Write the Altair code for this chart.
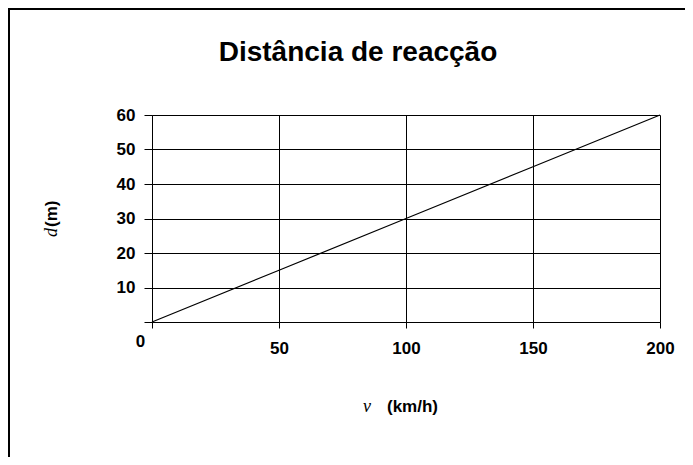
import altair as alt
import pandas as pd

# data
speed_kmh = [0, 50, 100, 150, 200]
distance_m = [0, 15, 30, 45, 60]
x_ticks = [0, 50, 100, 150, 200]
y_ticks = [0, 10, 20, 30, 40, 50, 60]

title_text = "Distância de reacção"
y_title_var = "d"
y_title_unit = "(m)"
x_title_var = "v"
x_title_unit = "(km/h)"

df = pd.DataFrame({"v": speed_kmh, "d": distance_m})

SANS = "Liberation Sans"
SERIF = "Liberation Serif"

x_enc = alt.X(
    "v:Q",
    scale=alt.Scale(domain=[0, 200], nice=False, zero=True),
    axis=alt.Axis(
        values=x_ticks,
        title=None,
        grid=True,
        gridColor="#000",
        gridWidth=1,
        gridOpacity=1,
        domainColor="#000",
        tickColor="#000",
        tickSize=6,
        labelFont=SANS,
        labelFontWeight="bold",
        labelFontSize=17,
        labelColor="#000",
        labelBaseline="top",
        labelFlush=False,
        labelOverlap=False,
        labelOffset={"condition": {"test": "datum.value == 0", "value": -12}, "value": 0},
        labelPadding={"condition": {"test": "datum.value == 0", "value": 5}, "value": 12},
    ),
)
y_enc = alt.Y(
    "d:Q",
    scale=alt.Scale(domain=[0, 60], nice=False),
    axis=alt.Axis(
        values=y_ticks,
        title=None,
        grid=True,
        gridColor="#000",
        gridWidth=1,
        gridOpacity=1,
        domainColor="#000",
        tickColor="#000",
        tickSize=8,
        labelFont=SANS,
        labelFontWeight="bold",
        labelFontSize=17,
        labelColor="#000",
        labelPadding=9,
        labelFlush=False,
        labelOverlap=False,
        labelExpr="datum.value == 0 ? '' : datum.label",
    ),
)

line = alt.Chart(df).mark_line(color="#000", strokeWidth=1.2).encode(x=x_enc, y=y_enc)

def label(txt, x, y, font, size, weight="normal", style="normal", angle=0, align="center", baseline="middle"):
    return alt.Chart(pd.DataFrame({"t": [txt]})).mark_text(
        font=font, fontSize=size, fontWeight=weight, fontStyle=style,
        angle=angle, align=align, baseline=baseline, color="#000",
    ).encode(x=alt.value(x), y=alt.value(y), text="t:N")

main_title = label(title_text, 206, -54, SANS, 28, weight="bold", baseline="alphabetic")
y_unit = label(y_title_unit, -100, 112, SANS, 17, weight="bold", angle=270, align="left")
y_var = label(y_title_var, -100, 113, SERIF, 18, style="italic", angle=270, align="right")
x_var = label(x_title_var, 219, 292, SERIF, 18, style="italic", align="right")
x_unit = label(x_title_unit, 235, 292, SANS, 17, weight="bold", align="left")

frame_top = alt.Chart(pd.DataFrame({"k": [0]})).mark_rule(color="#000", strokeWidth=2).encode(
    x=alt.value(-144), x2=alt.value(540), y=alt.value(-106)
)
frame_left = alt.Chart(pd.DataFrame({"k": [0]})).mark_rule(color="#000", strokeWidth=2).encode(
    x=alt.value(-143), y=alt.value(-107), y2=alt.value(345)
)

chart = alt.layer(
    line, main_title, y_unit, y_var, x_var, x_unit, frame_top, frame_left
).properties(
    width=508,
    height=207,
    padding={"left": 144, "top": 107, "right": 25, "bottom": 135},
    autosize="none",
    background="white",
).configure_view(stroke=None)

chart.save("out.html", embed_options={"renderer": "svg", "actions": False})
